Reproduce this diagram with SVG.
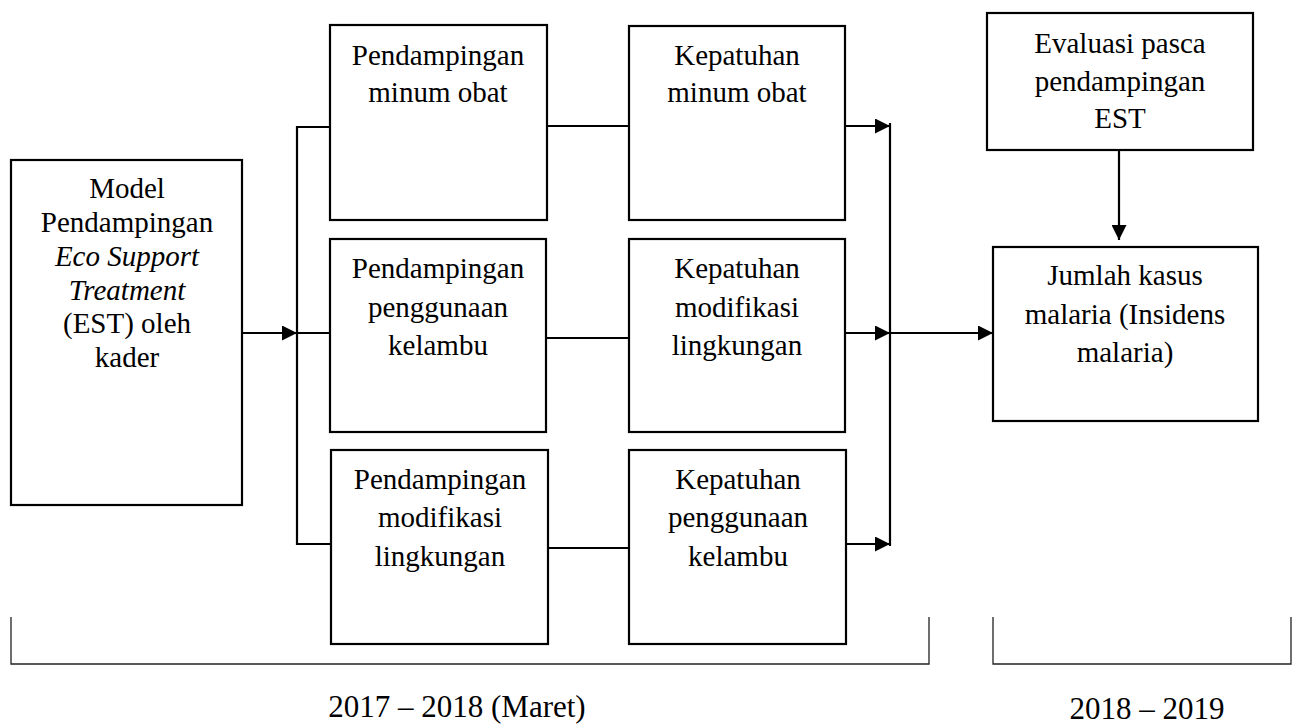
<svg xmlns="http://www.w3.org/2000/svg" width="1297" height="724" viewBox="0 0 1297 724">
<defs>
<marker id="ah" markerWidth="15" markerHeight="15" refX="15" refY="7.5" orient="auto" markerUnits="userSpaceOnUse">
<path d="M0,0 L15,7.5 L0,15 Z" fill="#000"/>
</marker>
<style>
.box{fill:#fff;stroke:#000;stroke-width:2.2}
.t{font-family:'Liberation Serif','DejaVu Serif',serif;font-size:29px;fill:#000;text-anchor:middle}
.it{font-style:italic}
.c{fill:none;stroke:#000;stroke-width:2.2}
.br{fill:none;stroke:#222;stroke-width:1.3}
.lab{font-family:'Liberation Serif','DejaVu Serif',serif;font-size:31px;fill:#000;text-anchor:middle}
</style>
</defs>
<rect width="1297" height="724" fill="#fff"/>

<g id="connectors">
<path class="c" d="M242,333 H297" marker-end="url(#ah)"/>
<path class="c" d="M330,127 H297 V544 H331"/>
<path class="c" d="M297,333 H330"/>
<path class="c" d="M547,126 H629"/>
<path class="c" d="M546,338 H629"/>
<path class="c" d="M548,548 H629"/>
<path class="c" d="M845,126 H890" marker-end="url(#ah)"/>
<path class="c" d="M845,333 H890" marker-end="url(#ah)"/>
<path class="c" d="M846,544 H890" marker-end="url(#ah)"/>
<path class="c" d="M890,123 V546"/>
<path class="c" d="M890,333 H993" marker-end="url(#ah)"/>
<path class="c" d="M1119,150 V240" marker-end="url(#ah)"/>
</g>

<g id="node-model">
<rect class="box" x="11" y="160" width="231" height="345"/>
<text class="t" x="127" y="198">Model</text>
<text class="t" x="127" y="232">Pendampingan</text>
<text class="t it" x="127" y="266">Eco Support</text>
<text class="t it" x="127" y="300">Treatment</text>
<text class="t" x="127" y="333">(EST) oleh</text>
<text class="t" x="127" y="367">kader</text>
</g>

<g id="node-p1">
<rect class="box" x="330" y="25" width="217" height="195"/>
<text class="t" x="438" y="65">Pendampingan</text>
<text class="t" x="438" y="102">minum obat</text>
</g>

<g id="node-p2">
<rect class="box" x="330" y="239" width="216" height="193"/>
<text class="t" x="438" y="278">Pendampingan</text>
<text class="t" x="438" y="317">penggunaan</text>
<text class="t" x="438" y="355">kelambu</text>
</g>

<g id="node-p3">
<rect class="box" x="331" y="450" width="217" height="194"/>
<text class="t" x="440" y="489">Pendampingan</text>
<text class="t" x="440" y="527">modifikasi</text>
<text class="t" x="440" y="566">lingkungan</text>
</g>

<g id="node-k1">
<rect class="box" x="629" y="26" width="216" height="194"/>
<text class="t" x="737" y="65">Kepatuhan</text>
<text class="t" x="737" y="102">minum obat</text>
</g>

<g id="node-k2">
<rect class="box" x="629" y="239" width="216" height="193"/>
<text class="t" x="737" y="278">Kepatuhan</text>
<text class="t" x="737" y="317">modifikasi</text>
<text class="t" x="737" y="355">lingkungan</text>
</g>

<g id="node-k3">
<rect class="box" x="629" y="450" width="217" height="194"/>
<text class="t" x="738" y="489">Kepatuhan</text>
<text class="t" x="738" y="527">penggunaan</text>
<text class="t" x="738" y="566">kelambu</text>
</g>

<g id="node-evaluasi">
<rect class="box" x="987" y="13" width="266" height="137"/>
<text class="t" x="1120" y="53">Evaluasi pasca</text>
<text class="t" x="1120" y="91">pendampingan</text>
<text class="t" x="1120" y="128">EST</text>
</g>

<g id="node-jumlah">
<rect class="box" x="993" y="247" width="265" height="174"/>
<text class="t" x="1125" y="285">Jumlah kasus</text>
<text class="t" x="1125" y="324">malaria (Insidens</text>
<text class="t" x="1125" y="362">malaria)</text>
</g>

<g id="timeline">
<path class="br" d="M11,617 V664 H929 V617"/>
<path class="br" d="M993,617 V664 H1291 V617"/>
<text class="lab" x="457" y="717">2017 – 2018 (Maret)</text>
<text class="lab" x="1147" y="719">2018 – 2019</text>
</g>
</svg>
